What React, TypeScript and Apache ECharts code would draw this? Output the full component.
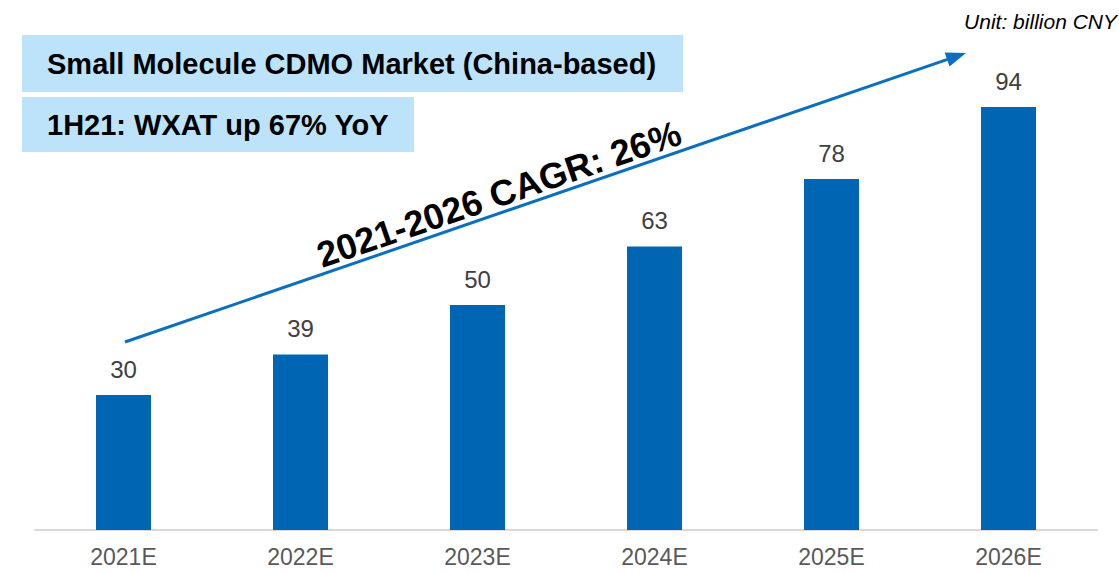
import React, { useEffect, useRef } from "react";
import * as echarts from "echarts";

const categories = ["2021E", "2022E", "2023E", "2024E", "2025E", "2026E"];
const marketValues = [30, 39, 50, 63, 78, 94];
const titleText = "Small Molecule CDMO Market (China-based)";
const subtitleText = "1H21: WXAT up 67% YoY";
const cagrText = "2021-2026 CAGR: 26%";
const unitText = "Unit: billion CNY";

const BLUE = "#0066B3";
const ARROW = "#0A6FC0";
const BOX = "#BDE3FB";
const FONT = "'Liberation Sans', Arial, sans-serif";

export default function App() {
  const ref = useRef<HTMLDivElement>(null);
  useEffect(() => {
    if (!ref.current) return;
    const chart = echarts.init(ref.current, null, { renderer: "svg" });
    const start = [125, 342];
    const tip = [966, 53];
    const dx = tip[0] - start[0];
    const dy = tip[1] - start[1];
    const len = Math.sqrt(dx * dx + dy * dy);
    const ux = dx / len;
    const uy = dy / len;
    const nx = -uy;
    const ny = ux;
    const headL = 20;
    const headW = 7.5;
    const bx = tip[0] - headL * ux;
    const by = tip[1] - headL * uy;
    chart.setOption({
      animation: false,
      grid: { left: 35, right: 22, top: 80, bottom: 43 },
      xAxis: {
        type: "category",
        data: categories,
        axisLine: { show: true, lineStyle: { color: "#D9D9D9", width: 2 } },
        axisTick: { show: false },
        axisLabel: { color: "#595959", fontSize: 23, fontFamily: FONT, margin: 15 },
      },
      yAxis: {
        type: "value",
        min: 0,
        max: 100,
        show: false,
        splitLine: { show: false },
      },
      series: [
        {
          type: "bar",
          data: marketValues,
          barWidth: 55,
          itemStyle: { color: BLUE },
          label: {
            show: true,
            position: "top",
            distance: 14,
            color: "#404040",
            fontSize: 24,
            fontFamily: FONT,
          },
        },
      ],
      graphic: [
        { type: "rect", shape: { x: 22, y: 35, width: 661, height: 57 }, style: { fill: BOX } },
        { type: "rect", shape: { x: 22, y: 97, width: 392, height: 55 }, style: { fill: BOX } },
        {
          type: "text",
          x: 47,
          y: 64,
          style: {
            text: titleText,
            fill: "#000",
            font: `bold 29px ${FONT}`,
            verticalAlign: "middle",
          },
        },
        {
          type: "text",
          x: 47,
          y: 125,
          style: {
            text: subtitleText,
            fill: "#000",
            font: `bold 29px ${FONT}`,
            verticalAlign: "middle",
          },
        },
        {
          type: "text",
          x: 1117,
          y: 21,
          style: {
            text: unitText,
            fill: "#000",
            font: `italic 21px ${FONT}`,
            align: "right",
            verticalAlign: "middle",
          },
        },
        {
          type: "line",
          shape: { x1: start[0], y1: start[1], x2: bx + 2 * ux, y2: by + 2 * uy },
          style: { stroke: ARROW, lineWidth: 3 },
        },
        {
          type: "polygon",
          shape: {
            points: [
              [tip[0], tip[1]],
              [bx + headW * nx, by + headW * ny],
              [bx - headW * nx, by - headW * ny],
            ],
          },
          style: { fill: ARROW },
        },
        {
          type: "text",
          x: 499,
          y: 194,
          rotation: (19 * Math.PI) / 180,
          style: {
            text: cagrText,
            fill: "#000",
            font: `bold 36px ${FONT}`,
            align: "center",
            verticalAlign: "middle",
          },
        },
      ],
    });
    return () => chart.dispose();
  }, []);
  return (
    <div
      ref={ref}
      style={{ position: "fixed", left: 0, top: 0, width: 1119, height: 573, background: "#fff" }}
    />
  );
}
